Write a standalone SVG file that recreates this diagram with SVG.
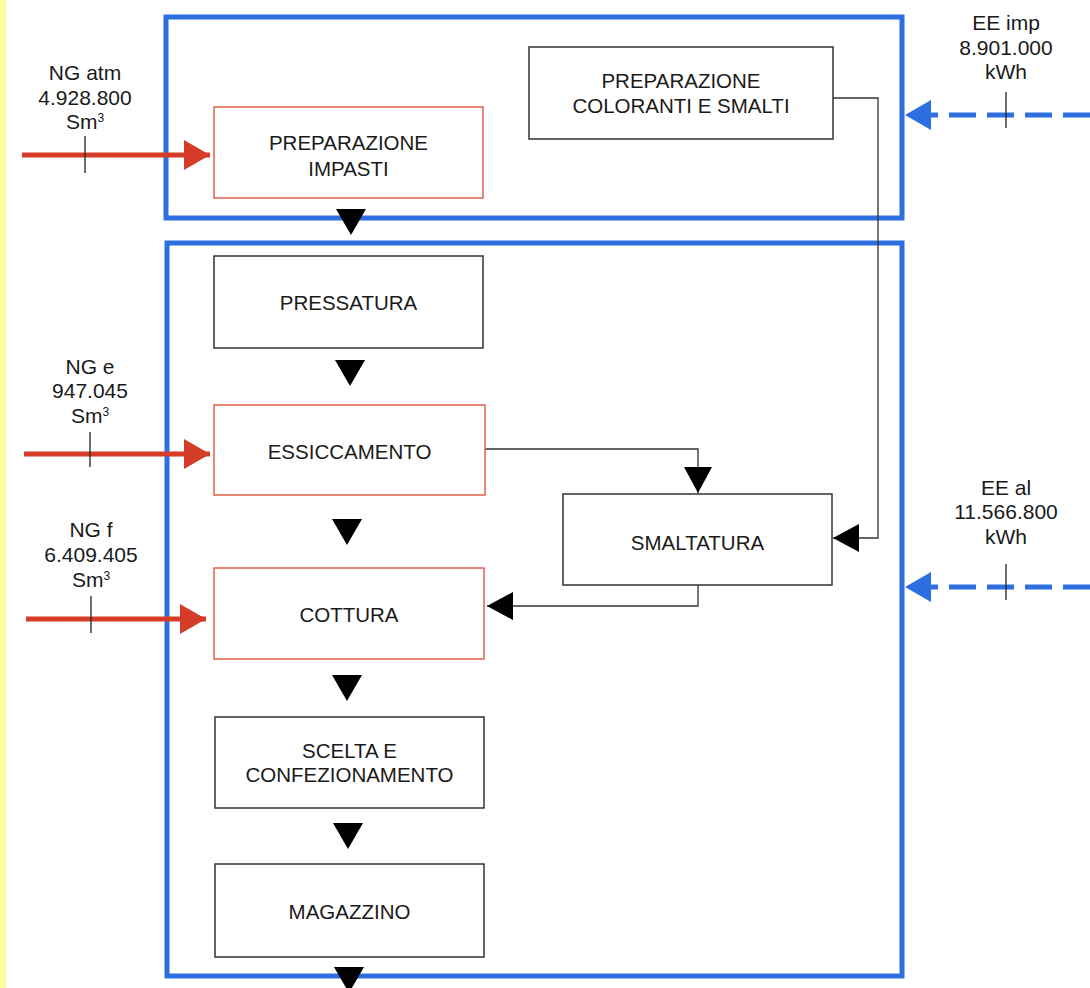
<svg xmlns="http://www.w3.org/2000/svg" width="1090" height="988" viewBox="0 0 1090 988">
<style>
  text { font-family: "Liberation Sans", Arial, sans-serif; font-size: 20.5px; fill: #1a1a1a; text-anchor: middle; }
  .lbl { font-size: 21px; }
  .area { fill: none; stroke: #2d6fe0; stroke-width: 5; }
  .box { fill: #fff; stroke: #333; stroke-width: 1.5; }
  .rbox { fill: #fff; stroke: #e0604a; stroke-width: 1.5; }
  .flow { fill: none; stroke: #333; stroke-width: 1.3; }
  .ng { fill: none; stroke: #d43c28; stroke-width: 5; }
  .ee { fill: none; stroke: #2d6fe0; stroke-width: 5; stroke-dasharray: 27 11; }
  .tick { stroke: #222; stroke-width: 1.3; }
  .tri { fill: #000; }
</style>
<defs>
  <path id="down" d="M-15,0 L15,0 L0,26 Z"/>
  <marker id="ahK" viewBox="0 0 26 28" refX="26" refY="14" markerWidth="26" markerHeight="28" markerUnits="userSpaceOnUse" orient="auto">
    <path d="M0,0 L26,14 L0,28 Z" fill="#000"/>
  </marker>
  <marker id="ahR" viewBox="0 0 26 30" refX="26" refY="15" markerWidth="26" markerHeight="30" markerUnits="userSpaceOnUse" orient="auto">
    <path d="M0,0 L26,15 L0,30 Z" fill="#d43c28"/>
  </marker>
  <marker id="ahB" viewBox="0 0 26 30" refX="26" refY="15" markerWidth="26" markerHeight="30" markerUnits="userSpaceOnUse" orient="auto">
    <path d="M0,0 L26,15 L0,30 Z" fill="#2d6fe0"/>
  </marker>
</defs>
<rect x="0" y="0" width="1090" height="988" fill="#fff"/>
<rect x="0" y="0" width="6" height="988" fill="#ffff99"/>

<g id="areas">
  <rect class="area" x="166" y="17" width="736" height="201"/>
  <rect class="area" x="167" y="243" width="735" height="733"/>
</g>

<g id="connectors">
  <path class="flow" d="M833,98 H878 V538 H833" marker-end="url(#ahK)"/>
  <path class="flow" d="M485,449 H698 V493" marker-end="url(#ahK)"/>
  <path class="flow" d="M698,585 V606 H487" marker-end="url(#ahK)"/>
  <use href="#down" class="tri" x="351" y="209"/>
  <use href="#down" class="tri" x="350" y="360"/>
  <use href="#down" class="tri" x="347" y="519"/>
  <use href="#down" class="tri" x="347" y="675"/>
  <use href="#down" class="tri" x="348" y="823"/>
  <use href="#down" class="tri" x="349" y="967"/>
  <path class="ng" d="M22,155 H210" marker-end="url(#ahR)"/>
  <path class="ng" d="M24,454 H210" marker-end="url(#ahR)"/>
  <path class="ng" d="M26,619 H206" marker-end="url(#ahR)"/>
  <path class="ee" d="M1090,115 H905" marker-end="url(#ahB)"/>
  <path class="ee" d="M1090,587 H905" marker-end="url(#ahB)"/>
  <line class="tick" x1="85" y1="136" x2="85" y2="173"/>
  <line class="tick" x1="90" y1="432" x2="90" y2="467"/>
  <line class="tick" x1="91" y1="596" x2="91" y2="633"/>
  <line class="tick" x1="1006" y1="92" x2="1006" y2="128"/>
  <line class="tick" x1="1006" y1="564" x2="1006" y2="600"/>
</g>

<g id="ng-atm">
  <text class="lbl" x="85" y="80">NG atm</text>
  <text class="lbl" x="85" y="105">4.928.800</text>
  <text class="lbl" x="85" y="129">Sm<tspan font-size="12" dy="-7">3</tspan></text>
</g>
<g id="ng-e">
  <text class="lbl" x="90" y="374">NG e</text>
  <text class="lbl" x="90" y="398">947.045</text>
  <text class="lbl" x="90" y="423">Sm<tspan font-size="12" dy="-7">3</tspan></text>
</g>
<g id="ng-f">
  <text class="lbl" x="91" y="537">NG f</text>
  <text class="lbl" x="91" y="562">6.409.405</text>
  <text class="lbl" x="91" y="587">Sm<tspan font-size="12" dy="-7">3</tspan></text>
</g>
<g id="ee-imp">
  <text class="lbl" x="1006" y="30">EE imp</text>
  <text class="lbl" x="1006" y="55">8.901.000</text>
  <text class="lbl" x="1006" y="79">kWh</text>
</g>
<g id="ee-al">
  <text class="lbl" x="1006" y="495">EE al</text>
  <text class="lbl" x="1006" y="519">11.566.800</text>
  <text class="lbl" x="1006" y="544">kWh</text>
</g>

<g id="preparazione-impasti">
  <rect class="rbox" x="214" y="107" width="269" height="91"/>
  <text x="348.5" y="150">PREPARAZIONE</text>
  <text x="348.5" y="176">IMPASTI</text>
</g>
<g id="preparazione-coloranti">
  <rect class="box" x="529" y="47" width="304" height="92"/>
  <text x="681" y="88">PREPARAZIONE</text>
  <text x="681" y="113">COLORANTI E SMALTI</text>
</g>
<g id="pressatura">
  <rect class="box" x="214" y="256" width="269" height="92"/>
  <text x="348.5" y="310">PRESSATURA</text>
</g>
<g id="essiccamento">
  <rect class="rbox" x="214" y="405" width="271" height="90"/>
  <text x="349.5" y="459">ESSICCAMENTO</text>
</g>
<g id="smaltatura">
  <rect class="box" x="563" y="494" width="269" height="91"/>
  <text x="697.5" y="550">SMALTATURA</text>
</g>
<g id="cottura">
  <rect class="rbox" x="214" y="568" width="270" height="91"/>
  <text x="349" y="622">COTTURA</text>
</g>
<g id="scelta">
  <rect class="box" x="215" y="717" width="269" height="91"/>
  <text x="349.5" y="758">SCELTA E</text>
  <text x="349.5" y="782">CONFEZIONAMENTO</text>
</g>
<g id="magazzino">
  <rect class="box" x="215" y="864" width="269" height="93"/>
  <text x="349.5" y="919">MAGAZZINO</text>
</g>
</svg>
